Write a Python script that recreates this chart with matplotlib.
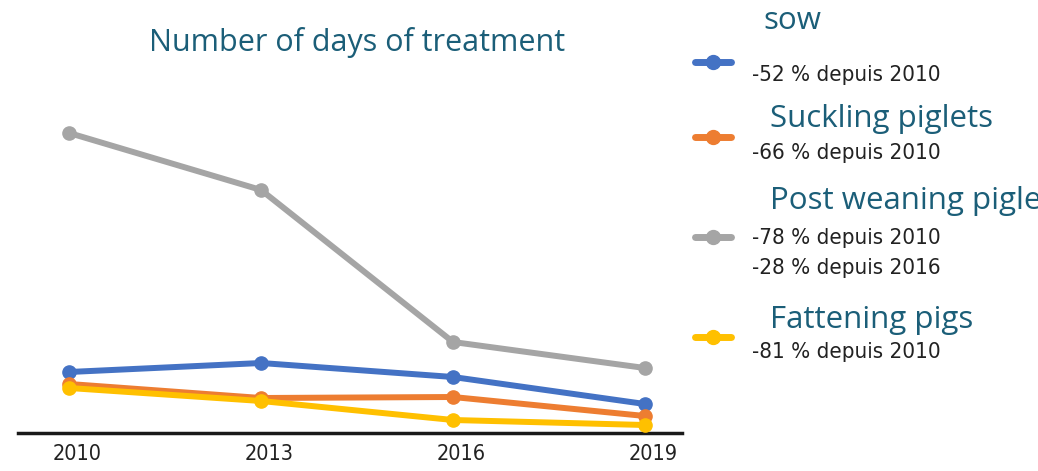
import matplotlib.pyplot as plt
from matplotlib.lines import Line2D
from matplotlib.transforms import ScaledTranslation

years = [2010, 2013, 2016, 2019]
sow = [61, 70, 56, 29]
suckling = [49, 35, 36, 17]
post_weaning = [300, 243, 91, 65]
fattening = [45, 32, 13, 8]

names = ["sow", "Suckling piglets", "Post weaning piglets", "Fattening pigs"]
notes = [["-52 % depuis 2010"], ["-66 % depuis 2010"],
         ["-78 % depuis 2010", "-28 % depuis 2016"], ["-81 % depuis 2010"]]
colors = ["#4472c4", "#ed7d31", "#a5a5a5", "#ffc000"]
teal = "#1b5e78"
dark = "#222222"

W, H = 1038, 471
fig = plt.figure(figsize=(W / 100, H / 100), dpi=100)
ax = fig.add_axes([18 / W, 1 - 433 / H, (682 - 18) / W, 320 / H])

series = [sow, suckling, post_weaning, fattening]
order = [2, 0, 1, 3]
for i in order:
    ax.plot(years, series[i], color=colors[i], lw=4.3, marker="o", ms=9.5,
            solid_capstyle="round", clip_on=False, zorder=3)

ax.set_xlim(2009.2, 2019.58)
ax.set_ylim(0, 320)
for s in ["top", "right", "left"]:
    ax.spines[s].set_visible(False)
ax.spines["bottom"].set_linewidth(2.5)
ax.spines["bottom"].set_color("#1a1a1a")
ax.set_yticks([])
ax.set_xticks(years)
ax.set_xticklabels([str(y) for y in years], fontsize=15.5, fontstretch="condensed",
                   family="DejaVu Sans", color=dark)
ax.tick_params(axis="x", length=0, pad=8)
shift = ScaledTranslation(8 / 100, 0, fig.dpi_scale_trans)
for lab in ax.get_xticklabels():
    lab.set_transform(lab.get_transform() + shift)

fig.text(357 / W, 1 - 43 / H, "Number of days of treatment", ha="center", va="center",
         fontsize=22, color=teal, family=["Open Sans", "DejaVu Sans"])

# legend on the right (the long label runs off the edge, as in the source)
handle_y = [62, 137, 237, 337]
name_pos = [(763, 21), (770, 119), (770, 201), (770, 320)]
note_y = [[75], [153], [238, 268], [352]]
for i in range(4):
    y = 1 - handle_y[i] / H
    fig.add_artist(Line2D([695 / W, 731 / W], [y, y], color=colors[i], lw=5,
                          solid_capstyle="round", transform=fig.transFigure))
    fig.add_artist(Line2D([713 / W], [y], color=colors[i], marker="o", ms=10,
                          transform=fig.transFigure))
    nx, ny = name_pos[i]
    fig.text(nx / W, 1 - ny / H, names[i], ha="left", va="center", fontsize=22.5,
             color=teal, family=["Open Sans", "DejaVu Sans"])
    for txt, ty in zip(notes[i], note_y[i]):
        fig.text(752 / W, 1 - ty / H, txt, ha="left", va="center", fontsize=16,
                 fontstretch="condensed", color=dark, family="DejaVu Sans")

fig.savefig("out.png", dpi=100)
